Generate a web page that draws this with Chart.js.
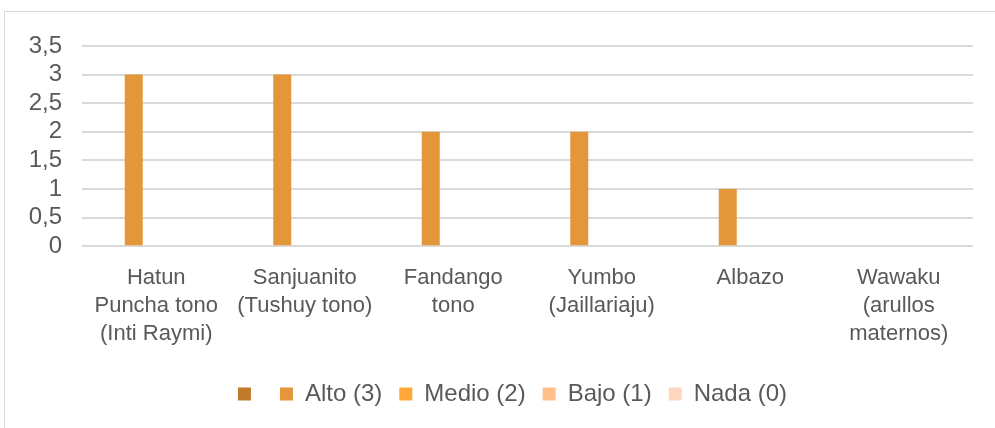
<!DOCTYPE html>
<html>
<head>
<meta charset="utf-8">
<script src="https://cdn.jsdelivr.net/npm/chart.js@4"></script>
<style>
  html, body { margin: 0; padding: 0; background: #ffffff; overflow: hidden; }
  #wrap { position: relative; width: 995px; height: 428px; }
  #frame { position: absolute; left: 4px; top: 11px; width: 1100px; height: 500px;
           border-left: 1.5px solid #d9d9d9; border-top: 1.5px solid #d9d9d9; box-sizing: border-box; }
  canvas { position: absolute; left: 0; top: 0; }
</style>
</head>
<body>
<div id="wrap">
  <div id="frame"></div>
  <canvas id="c" width="995" height="428"></canvas>
</div>
<script>
const categories = [
  ["Hatun", "Puncha tono", "(Inti Raymi)"],
  ["Sanjuanito", "(Tushuy tono)"],
  ["Fandango", "tono"],
  ["Yumbo", "(Jaillariaju)"],
  ["Albazo"],
  ["Wawaku", "(arullos", "maternos)"]
];
const seriesNames = ["", "Alto (3)", "Medio (2)", "Bajo (1)", "Nada (0)"];
const serieBlank = [0, 0, 0, 0, 0, 0];
const serieAlto  = [3, 3, 2, 2, 1, 0];
const serieMedio = [0, 0, 0, 0, 0, 0];
const serieBajo  = [0, 0, 0, 0, 0, 0];
const serieNada  = [0, 0, 0, 0, 0, 0];
const yTicks = [0, 0.5, 1, 1.5, 2, 2.5, 3, 3.5];

const colors = ["#c07a2a", "#e3963a", "#ffa838", "#ffc08a", "#ffd6c0"];
const seriesData = [serieBlank, serieAlto, serieMedio, serieBajo, serieNada];

const FONT = "'Liberation Sans', Arial, sans-serif";
const TXT = "#595959";

const legendShift = {
  id: 'legendShift',
  afterLayout(chart) {
    if (chart.legend) { chart.legend.left = 52; }
  }
};

new Chart(document.getElementById('c'), {
  type: 'bar',
  data: {
    labels: categories,
    datasets: seriesData.map((d, i) => ({
      label: seriesNames[i],
      data: d,
      backgroundColor: colors[i],
      borderWidth: 0,
      categoryPercentage: 0.7576,
      barPercentage: 0.8
    }))
  },
  plugins: [legendShift],
  options: {
    responsive: false,
    animation: false,
    devicePixelRatio: 1,
    layout: { padding: { left: 0, right: 22, top: 46, bottom: 12 } },
    plugins: {
      tooltip: { enabled: false },
      legend: {
        position: 'bottom',
        labels: {
          boxWidth: 13, boxHeight: 13, padding: 17,
          color: TXT,
          font: { family: FONT, size: 24 }
        }
      }
    },
    scales: {
      x: {
        afterFit: (s) => { s.height += 7; },
        grid: { display: false },
        border: { display: false },
        ticks: {
          color: TXT, padding: 10, maxRotation: 0, autoSkip: false,
          font: { family: FONT, size: 22, lineHeight: 1.27 }
        }
      },
      y: {
        min: 0, max: 3.5,
        afterFit: (s) => { s.width = 82; },
        afterBuildTicks: (s) => { s.ticks = yTicks.map(v => ({ value: v })); },
        grid: { color: '#d9d9d9', lineWidth: 2, drawTicks: false },
        border: { display: false },
        ticks: {
          color: TXT, padding: 20, autoSkip: false,
          font: { family: FONT, size: 24 },
          callback: (v) => String(v).replace('.', ',')
        }
      }
    }
  }
});
</script>
</body>
</html>
